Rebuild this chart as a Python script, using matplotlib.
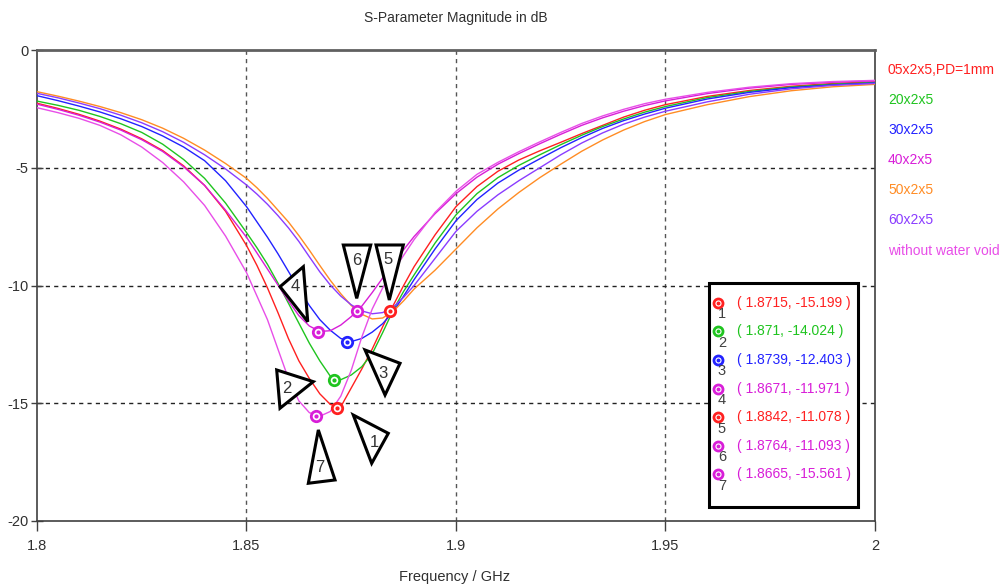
import numpy as np
import matplotlib
matplotlib.use("Agg")
import matplotlib.pyplot as plt
from matplotlib import font_manager as fm
from matplotlib.patches import Polygon, Rectangle
from matplotlib.transforms import IdentityTransform

# ---------------- data ----------------
freq = [1.800, 1.805, 1.810, 1.815, 1.820, 1.825, 1.830, 1.835, 1.840, 1.845, 1.850,
        1.8525, 1.855, 1.8575, 1.860, 1.8625, 1.865, 1.8675, 1.870, 1.8725, 1.875,
        1.8775, 1.880, 1.8825, 1.885, 1.8875, 1.890, 1.895,
        1.900, 1.905, 1.910, 1.915, 1.920, 1.925, 1.930, 1.935, 1.940, 1.945, 1.950,
        1.960, 1.970, 1.980, 1.990, 2.000]

s_05x2x5 = [-2.26, -2.48, -2.73, -3.02, -3.36, -3.77, -4.27, -4.92, -5.75, -6.85, -8.30,
            -9.15, -10.10, -11.15, -12.25, -13.20, -13.95, -14.60, -15.05, -15.15, -14.35,
            -13.55, -12.70, -11.75, -10.85, -10.00, -9.20, -7.85,
            -6.65, -5.80, -5.15, -4.67, -4.28, -3.92, -3.55, -3.20, -2.85, -2.56, -2.32,
            -1.97, -1.72, -1.54, -1.42, -1.35]
s_20x2x5 = [-2.17, -2.35, -2.56, -2.82, -3.13, -3.50, -4.00, -4.65, -5.45, -6.50, -7.75,
            -8.40, -9.10, -9.90, -10.75, -11.60, -12.45, -13.20, -13.85, -14.00, -13.80,
            -13.45, -12.90, -12.00, -11.05, -10.25, -9.55, -8.20,
            -7.00, -6.10, -5.42, -4.90, -4.45, -4.02, -3.62, -3.25, -2.93, -2.64, -2.40,
            -2.02, -1.76, -1.57, -1.45, -1.38]
s_30x2x5 = [-1.94, -2.15, -2.38, -2.63, -2.92, -3.25, -3.65, -4.12, -4.70, -5.55, -6.65,
            -7.30, -7.95, -8.65, -9.40, -10.15, -10.85, -11.45, -11.90, -12.25, -12.38,
            -12.25, -11.98, -11.62, -11.12, -10.45, -9.75, -8.45,
            -7.25, -6.35, -5.65, -5.10, -4.62, -4.15, -3.72, -3.33, -3.00, -2.72, -2.47,
            -2.08, -1.80, -1.60, -1.48, -1.40]
s_40x2x5 = [-2.30, -2.52, -2.77, -3.06, -3.40, -3.81, -4.31, -4.96, -5.75, -6.80, -7.95,
            -8.62, -9.30, -9.98, -10.65, -11.28, -11.72, -11.95, -11.92, -11.68, -11.32,
            -10.88, -10.30, -9.68, -9.07, -8.48, -7.92, -6.95,
            -6.10, -5.40, -4.85, -4.40, -3.98, -3.58, -3.20, -2.88, -2.60, -2.36, -2.16,
            -1.85, -1.62, -1.46, -1.37, -1.31]
s_50x2x5 = [-1.77, -1.96, -2.17, -2.40, -2.66, -2.96, -3.32, -3.75, -4.25, -4.82, -5.45,
            -5.85, -6.30, -6.80, -7.30, -7.88, -8.50, -9.15, -9.78, -10.35, -10.85,
            -11.22, -11.42, -11.38, -11.10, -10.65, -10.15, -9.35,
            -8.45, -7.55, -6.75, -6.05, -5.42, -4.85, -4.30, -3.82, -3.40, -3.04, -2.74,
            -2.32, -1.98, -1.73, -1.56, -1.46]
s_60x2x5 = [-1.84, -2.03, -2.25, -2.49, -2.77, -3.09, -3.47, -3.92, -4.45, -5.05, -5.73,
            -6.12, -6.55, -7.03, -7.55, -8.13, -8.78, -9.42, -9.98, -10.45, -10.82,
            -11.08, -11.20, -11.15, -10.92, -10.50, -10.00, -8.85,
            -7.70, -6.85, -6.15, -5.55, -5.00, -4.45, -3.95, -3.52, -3.15, -2.85, -2.60,
            -2.20, -1.88, -1.65, -1.50, -1.42]
s_without = [-2.45, -2.66, -2.90, -3.20, -3.60, -4.12, -4.78, -5.60, -6.60, -7.90, -9.45,
             -10.45, -11.45, -12.70, -13.95, -14.90, -15.40, -15.55, -15.35, -14.70, -13.60,
             -12.20, -11.00, -10.10, -9.40, -8.72, -8.05, -6.90,
             -6.00, -5.28, -4.77, -4.32, -3.90, -3.50, -3.12, -2.80, -2.52, -2.28, -2.09,
             -1.80, -1.58, -1.43, -1.34, -1.29]

series_names = ["05x2x5,PD=1mm", "20x2x5", "30x2x5", "40x2x5", "50x2x5", "60x2x5",
                "without water void"]
series_values = [s_05x2x5, s_20x2x5, s_30x2x5, s_40x2x5, s_50x2x5, s_60x2x5, s_without]

marker_ids = ["1", "2", "3", "4", "5", "6", "7"]
marker_freq = [1.8715, 1.871, 1.8739, 1.8671, 1.8842, 1.8764, 1.8665]
marker_db = [-15.199, -14.024, -12.403, -11.971, -11.078, -11.093, -15.561]

x_ticks = [1.8, 1.85, 1.9, 1.95, 2.0]
x_tick_labels = ["1.8", "1.85", "1.9", "1.95", "2"]
y_ticks = [0, -5, -10, -15, -20]
y_tick_labels = ["0", "-5", "-10", "-15", "-20"]

title = "S-Parameter Magnitude in dB"
xlabel = "Frequency / GHz"

# ---------------- style ----------------
series_colors = ["#ff2020", "#1fc41f", "#2222ff", "#d81ed8", "#ff8c24", "#8a3cff", "#e84ee8"]
marker_colors = ["#ff2020", "#1fc41f", "#2222ff", "#d81ed8", "#ff2020", "#d81ed8", "#d81ed8"]

# triangle callouts: vertex offsets in pixels relative to the marker (x right, y down)
tri_offsets = [
    [(16.7, 7.1), (51.7, 25.4), (35.1, 55.4)],
    [(-57.8, -10.3), (-21.2, 1.4), (-54.5, 28.0)],
    [(18.4, 7.9), (53.4, 21.2), (38.4, 52.9)],
    [(-38.1, -45.2), (-14.8, -65.2), (-10.4, -10.2)],
    [(-13.8, -65.9), (13.5, -65.9), (-0.5, -10.9)],
    [(-13.8, -66.2), (13.6, -66.2), (-0.4, -12.9)],
    [(2.7, 13.5), (-7.3, 66.8), (19.4, 63.5)],
]
tri_label_offsets = [(37.7, 34.8), (-47.8, 8.0), (36.7, 31.2), (-23.1, -45.2),
                     (-1.5, -50.9), (-0.4, -51.2), (4.4, 51.5)]


def pick_font():
    for name in ["Liberation Sans", "DejaVu Sans"]:
        try:
            fm.findfont(fm.FontProperties(family=name), fallback_to_default=False)
            return name
        except Exception:
            continue
    return "DejaVu Sans"


FONT = pick_font()
plt.rcParams["font.family"] = [FONT]
TXT = "#303030"

W, H = 1001, 587
fig = plt.figure(figsize=(W / 100, H / 100), dpi=100)
fig.patch.set_facecolor("white")
ax = fig.add_axes([37 / W, 66 / H, 838 / W, 471 / H])
ax.set_xlim(1.8, 2.0)
ax.set_ylim(-20, 0)

for vals, col in zip(series_values, series_colors):
    ax.plot(freq, vals, color=col, lw=1.0, zorder=3, solid_joinstyle="round")

# grid
for xv in x_ticks[1:-1]:
    ax.axvline(xv, color="#555555", lw=1.0, ls=(0, (3, 3)), zorder=1)
for yv in y_ticks[1:-1]:
    ax.axhline(yv, color="#222222", lw=1.0, ls=(0, (3, 3)), zorder=1)

ax.set_xticks(x_ticks)
ax.set_xticklabels(x_tick_labels)
ax.set_yticks(y_ticks)
ax.set_yticklabels(y_tick_labels)
ax.tick_params(axis="x", direction="out", length=7, width=1, color="#404040",
               labelsize=10.5, labelcolor=TXT, pad=6)
ax.tick_params(axis="y", direction="inout", length=8, width=1, color="#404040",
               labelsize=10.5, labelcolor=TXT, pad=2)
for side in ["left", "bottom", "right"]:
    ax.spines[side].set_color("#404040")
    ax.spines[side].set_linewidth(1.2)
ax.spines["top"].set_color("#606060")
ax.spines["top"].set_linewidth(2.0)

fig.text(456 / W, 1 - 18 / H, title, ha="center", va="center", fontsize=10, color=TXT)
fig.text(455 / W, 1 - 577 / H, xlabel, ha="center", va="center", fontsize=10.5, color=TXT)

# right-hand series labels
for i, (name, col) in enumerate(zip(series_names, series_colors)):
    fig.text(888 / W, 1 - (70.5 + 30 * i) / H, name, ha="left", va="center",
             fontsize=10, color=col)

# markers on curves
for f, d, col in zip(marker_freq, marker_db, marker_colors):
    ax.plot([f], [d], marker="o", ms=7.5, mfc="white", mec=col, mew=2.0, zorder=6)
    ax.plot([f], [d], marker="o", ms=2.0, mfc=col, mec=col, zorder=7)

# triangle callouts
fig.canvas.draw()
for f, d, offs, loff, mid in zip(marker_freq, marker_db, tri_offsets, tri_label_offsets, marker_ids):
    bx, by = ax.transData.transform((f, d))
    verts = [(bx + ox, by - oy) for ox, oy in offs]
    poly = Polygon(verts, closed=True, facecolor="white", edgecolor="black", lw=2.2,
                   transform=IdentityTransform(), zorder=8, clip_on=False, joinstyle="miter")
    ax.add_patch(poly)
    lx, ly = bx + loff[0], by - loff[1]
    ax.text(lx, ly, mid, transform=IdentityTransform(), ha="center", va="center",
            fontsize=12, color="#333333", zorder=9)

# marker table box
box_l, box_t, box_r, box_b = 709, 283, 858, 507
rect = Rectangle((box_l, H - box_b), box_r - box_l, box_b - box_t, transform=IdentityTransform(),
                 facecolor="white", edgecolor="black", lw=2.2, zorder=10, clip_on=False)
ax.add_patch(rect)
for i, (mid, f, d, col) in enumerate(zip(marker_ids, marker_freq, marker_db, marker_colors)):
    py = 302.7 + 28.6 * i
    ax.plot([718.3], [H - py], marker="o", ms=6.5, mfc="white", mec=col, mew=2.0,
            transform=IdentityTransform(), zorder=11, clip_on=False)
    ax.plot([718.3], [H - py], marker="o", ms=1.8, mfc=col, mec=col,
            transform=IdentityTransform(), zorder=12, clip_on=False)
    ax.text(722.0, H - py - 11.5, mid, transform=IdentityTransform(), ha="center",
            va="center", fontsize=10.5, color="#404040", zorder=12)
    ax.text(737.0, H - py, f"( {f:g}, {d:g} )", transform=IdentityTransform(),
            ha="left", va="center", fontsize=10, color=col, zorder=12)

fig.savefig("out.png", dpi=100, facecolor="white")
